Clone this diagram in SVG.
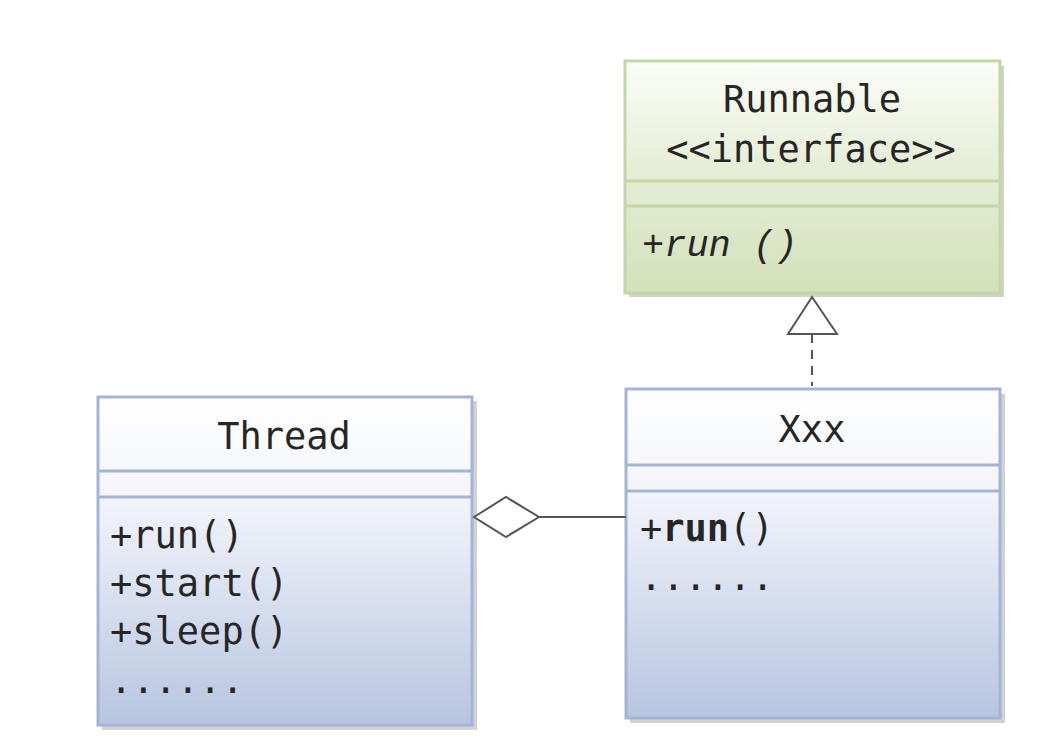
<svg xmlns="http://www.w3.org/2000/svg" width="1050" height="756" viewBox="0 0 1050 756">
<style>
.t{font-family:"DejaVu Sans Mono","Liberation Mono",monospace;font-size:37px;fill:#262626}
.c{text-anchor:middle}
.it{font-family:"Liberation Mono","DejaVu Sans Mono",monospace;font-style:italic;font-size:37px;fill:#262626}
.bb{fill:none;stroke:#a3b4d8;stroke-width:3}
.gb{fill:none;stroke:#c3d6a3;stroke-width:3}
.sh{fill:#9a9a9a;opacity:0.45}
.conn{fill:none;stroke:#555;stroke-width:2}
</style>
<defs>
<linearGradient id="blue" x1="0" y1="0" x2="0" y2="1">
<stop offset="0" stop-color="#ffffff"/>
<stop offset="0.3" stop-color="#f3f5fb"/>
<stop offset="1" stop-color="#b7c5e0"/>
</linearGradient>
<linearGradient id="green" x1="0" y1="0" x2="0" y2="1">
<stop offset="0" stop-color="#fbfdf8"/>
<stop offset="0.45" stop-color="#e6eed7"/>
<stop offset="1" stop-color="#d3e0ba"/>
</linearGradient>
</defs>
<rect width="1050" height="756" fill="#ffffff"/>

<g id="runnable">
<rect class="sh" x="629" y="66" width="375" height="231"/>
<rect x="625" y="61" width="375" height="232" fill="url(#green)"/>
<rect class="gb" x="625" y="61" width="375" height="232"/>
<line class="gb" x1="625" y1="181" x2="1000" y2="181"/>
<line class="gb" x1="625" y1="206" x2="1000" y2="206"/>
<text class="t c" x="812" y="112">Runnable</text>
<text class="t c" x="811" y="162">&lt;&lt;interface&gt;&gt;</text>
<text class="it" x="642" y="256">+run ()</text>
</g>

<g id="thread">
<rect class="sh" x="102" y="401" width="375" height="329"/>
<rect x="98" y="397" width="374" height="328" fill="url(#blue)"/>
<rect class="bb" x="98" y="397" width="374" height="328"/>
<line class="bb" x1="98" y1="471" x2="472" y2="471"/>
<line class="bb" x1="98" y1="497" x2="472" y2="497"/>
<text class="t c" x="284" y="449">Thread</text>
<text class="t" x="110" y="548">+run()</text>
<text class="t" x="110" y="596">+start()</text>
<text class="t" x="110" y="644">+sleep()</text>
<text class="t" x="110" y="693">......</text>
</g>

<g id="xxx">
<rect class="sh" x="630" y="394" width="375" height="329"/>
<rect x="626" y="389" width="374" height="329" fill="url(#blue)"/>
<rect class="bb" x="626" y="389" width="374" height="329"/>
<line class="bb" x1="626" y1="465" x2="1000" y2="465"/>
<line class="bb" x1="626" y1="491" x2="1000" y2="491"/>
<text class="t c" x="812" y="442">Xxx</text>
<text class="t" x="640" y="541">+<tspan font-weight="bold">run</tspan>()</text>
<text class="t" x="640" y="590">......</text>
</g>

<g id="connectors">
<line class="conn" x1="812" y1="334" x2="812" y2="386" stroke-dasharray="9,7"/>
<polygon points="812,297 788,334 837,334" fill="#ffffff" stroke="#555" stroke-width="2"/>
<line class="conn" x1="539" y1="517" x2="626" y2="517"/>
<polygon points="474,517 506,497 539,517 506,537" fill="#ffffff" stroke="#555" stroke-width="2"/>
</g>
</svg>
